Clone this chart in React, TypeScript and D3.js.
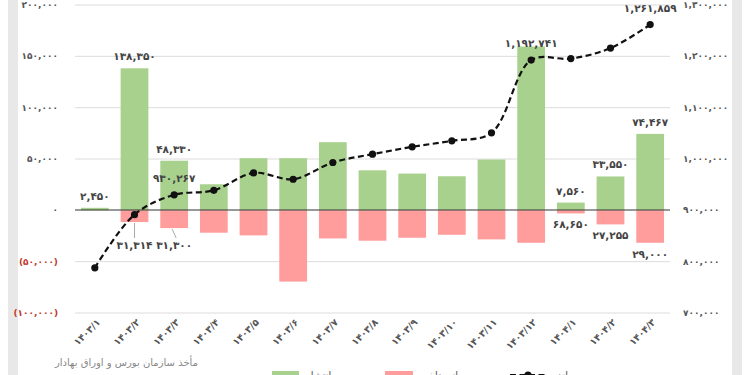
import React from "react";
import * as d3 from "d3";

const months = [
  "1403/1", "1403/2", "1403/3", "1403/4", "1403/5", "1403/6", "1403/7", "1403/8",
  "1403/9", "1403/10", "1403/11", "1403/12", "1404/1", "1404/2", "1404/3",
];
// green bars (left axis)
const issued = [2450, 138350, 48330, 25400, 50800, 50800, 66400, 39000, 35800, 33200, 49500, 159500, 7560, 33000, 74467];
// red bars (left axis, drawn below zero)
const repaid = [0, 11400, 17300, 21800, 24400, 69400, 27400, 29600, 26700, 23800, 28300, 31600, 3000, 13700, 31600];
// dashed line (right axis)
const balance = [788000, 891600, 930267, 939000, 972900, 960600, 993200, 1009400, 1023700, 1035400, 1051000, 1192741, 1195600, 1216000, 1261859];

const leftTicks = [-100000, -50000, 0, 50000, 100000, 150000, 200000];
const rightTicks = [700000, 800000, 900000, 1000000, 1100000, 1200000, 1300000];

// data labels as printed on the chart
const posLabels = [
  { i: 0, text: "2,450" },
  { i: 1, text: "138,350" },
  { i: 2, text: "48,330" },
  { i: 12, text: "7,560" },
  { i: 13, text: "33,550" },
  { i: 14, text: "74,467" },
];
const negLabels = [
  { i: 1, text: "31,314", leader: true },
  { i: 2, text: "31,300", leader: true },
  { i: 12, text: "68,650", leader: false },
  { i: 13, text: "27,255", leader: false },
  { i: 14, text: "29,000", leader: false },
];
const lineLabels = [
  { i: 2, text: "930,267" },
  { i: 11, text: "1,192,741" },
  { i: 14, text: "1,261,859" },
];

const fa = (s: string) => s.replace(/[0-9]/g, d => "۰۱۲۳۴۵۶۷۸۹"[+d]);
const fmt = d3.format(",");
const font = "'DejaVu Sans', sans-serif";

const W = 750, H = 375;
const left = 75, right = 670, top = 5, zeroY = 210, bottom = 313;

export default function App() {
  const x = d3.scaleBand<string>().domain(months).range([left, right]).paddingInner(0.3).paddingOuter(0.15);
  const yL = d3.scaleLinear().domain([-100000, 200000]).range([bottom, top]);
  const yR = d3.scaleLinear().domain([700000, 1300000]).range([bottom, top]);
  const cx = (i: number) => (x(months[i]) as number) + x.bandwidth() / 2;

  const line = d3
    .line<number>()
    .x((d, i) => cx(i))
    .y(d => yR(d))
    .curve(d3.curveCatmullRom.alpha(0.5));

  return (
    <svg width={W} height={H} style={{ position: "fixed", left: 0, top: 0, background: "#fff" }} fontFamily={font}>
      <rect x={8} y={0} width={10} height={H} fill="#e8e8e8" />
      <rect x={732} y={0} width={10} height={H} fill="#e8e8e8" />

      {leftTicks.filter(t => t !== 0).map(t => (
        <line key={t} x1={left} x2={right} y1={yL(t)} y2={yL(t)} stroke="#dcdcdc" strokeWidth={1} />
      ))}

      {leftTicks.map(t => (
        <text key={"l" + t} x={58} y={yL(t) + 3} textAnchor="end" fontSize={9} fontWeight="bold"
          fill={t < 0 ? "#c0392b" : "#555"}>
          {t === 0 ? fa("0") : t < 0 ? "(" + fa(fmt(-t)) + ")" : fa(fmt(t))}
        </text>
      ))}
      {rightTicks.map(t => (
        <text key={"r" + t} x={683} y={yR(t) + 3} textAnchor="start" fontSize={9} fontWeight="bold" fill="#555">
          {fa(fmt(t))}
        </text>
      ))}

      {issued.map((v, i) => (
        <rect key={"g" + i} x={x(months[i])} width={x.bandwidth()} y={yL(v)} height={yL(0) - yL(v)} fill="#a9d18e" />
      ))}
      {repaid.map((v, i) => (
        <rect key={"r" + i} x={x(months[i])} width={x.bandwidth()} y={yL(0)} height={yL(-v) - yL(0)} fill="#ff9c9c" />
      ))}

      <line x1={left} x2={right} y1={zeroY} y2={zeroY} stroke="#333" strokeWidth={1} />

      <path d={line(balance) || ""} fill="none" stroke="#111" strokeWidth={2.2} strokeDasharray="6,3.5" />
      {balance.map((v, i) => (
        <circle key={"c" + i} cx={cx(i)} cy={yR(v)} r={3.6} fill="#111" />
      ))}

      {posLabels.map(l => (
        <text key={"p" + l.i} x={cx(l.i)} y={yL(issued[l.i]) - 8} textAnchor="middle" fontSize={10.5} fontWeight="bold" fill="#444">
          {fa(l.text)}
        </text>
      ))}
      {negLabels.map(l => {
        const yb = yL(-repaid[l.i]);
        const ty = l.leader ? zeroY + 39 : yb + 15;
        return (
          <g key={"n" + l.i}>
            {l.leader && (
              <line x1={cx(l.i) + (l.i === 2 ? -2 : 0)} x2={cx(l.i) + (l.i === 2 ? 2 : 0)} y1={yb + 1} y2={ty - 11} stroke="#aaa" strokeWidth={1} />
            )}
            <text x={cx(l.i)} y={ty} textAnchor="middle" fontSize={10.5} fontWeight="bold" fill="#444">
              {fa(l.text)}
            </text>
          </g>
        );
      })}
      {lineLabels.map(l => (
        <text key={"ll" + l.i} x={cx(l.i)} y={yR(balance[l.i]) - 13} textAnchor="middle" fontSize={10.5} fontWeight="bold" fill="#444">
          {fa(l.text)}
        </text>
      ))}

      {months.map((m, i) => (
        <text key={"x" + m} transform={`translate(${cx(i) + 6},${323}) rotate(-45)`} textAnchor="end" fontSize={9.5} fontWeight="bold" fill="#555">
          {fa(m)}
        </text>
      ))}

      <text x={198} y={366} textAnchor="end" fontSize={10} fill="#888">مأخذ سازمان بورس و اوراق بهادار</text>

      <rect x={272} y={371} width={27} height={10} fill="#a9d18e" />
      <text x={306} y={379} fontSize={10} fill="#555">انتشار</text>
      <rect x={385} y={371} width={28} height={10} fill="#ff9c9c" />
      <text x={419} y={379} fontSize={10} fill="#555">بازپرداخت</text>
      <line x1={510} x2={546} y1={375} y2={375} stroke="#111" strokeWidth={2.2} strokeDasharray="6,3.5" />
      <circle cx={528} cy={375} r={3.6} fill="#111" />
      <text x={552} y={379} fontSize={10} fill="#555">مانده</text>
    </svg>
  );
}
